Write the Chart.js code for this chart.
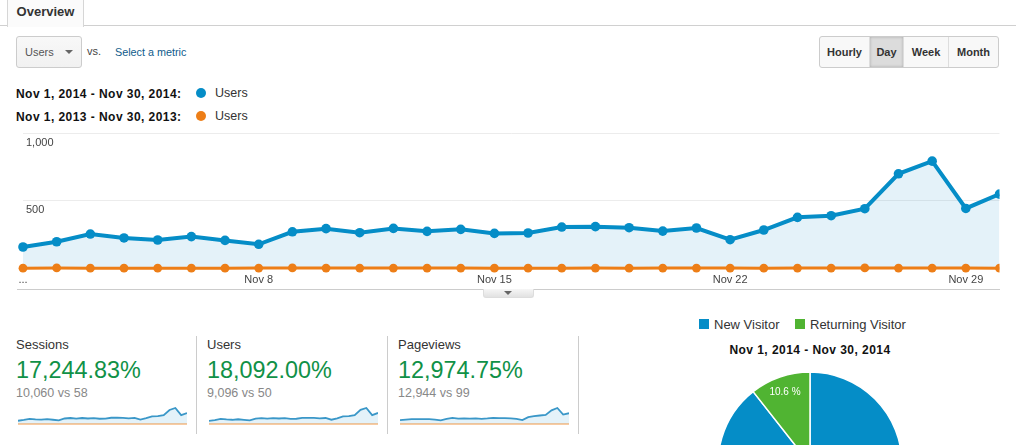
<!DOCTYPE html>
<html>
<head>
<meta charset="utf-8">
<title>Overview</title>
<script src="https://cdn.jsdelivr.net/npm/chart.js@4"></script>
<style>
    html, body { margin: 0; padding: 0; width: 1016px; height: 445px; overflow: hidden; background: #fff; }
    body { position: relative; font-family: "Liberation Sans", Arial, sans-serif; color: #333; }
    .abs { position: absolute; white-space: nowrap; }
    canvas { position: absolute; display: block; }
    .tab-line { left: 0; top: 25px; width: 1016px; height: 1px; background: #d0d0d0; }
    .tab { left: 7px; top: -2px; width: 75px; height: 28px; border: 1px solid #d6d6d6; border-bottom: 0; background: #fbfbfb;
        font: bold 13px/26px "Liberation Sans", sans-serif; text-align: center; color: #333; }
    .select { left: 16px; top: 36px; width: 64px; height: 30px; border: 1px solid #ccc; border-radius: 3px;
        background: linear-gradient(#f8f8f8, #f1f1f1); font-size: 11px; line-height: 30px; color: #555; text-indent: 8px; }
    .arrow { width: 0; height: 0; border-left: 4px solid transparent; border-right: 4px solid transparent; border-top: 4px solid #666; }
    .buttons { left: 819px; top: 36px; width: 178px; height: 30px; border: 1px solid #ccc; border-radius: 3px; display: flex;
        background: #f8f8f8; overflow: hidden; font: bold 11px/30px "Liberation Sans", sans-serif; color: #333; }
    .buttons div { text-align: center; border-right: 1px solid #ddd; box-sizing: border-box; }
    .buttons div:last-child { border-right: 0; }
    .buttons .on { background: #dcdcdc; box-shadow: inset 0 0 3px #aaa; }
    .range { font: bold 12px "Liberation Sans", sans-serif; color: #111; letter-spacing: 0.45px; }
    .dot { width: 10px; height: 10px; border-radius: 50%; }
    .metric { font-size: 13px; color: #333; }
    .pct { font-size: 23.4px; color: #109147; }
    .sub { font-size: 12.5px; color: #888; }
    .sep { width: 1px; top: 336px; height: 98px; background: #ccc; }
    .square { width: 10px; height: 10px; top: 319px; }
</style>
</head>
<body>
<div class="abs tab-line"></div>
<div class="abs tab">Overview</div>

<div class="abs select">Users</div>
<div class="abs arrow" style="left:65px;top:50px"></div>
<div class="abs" style="left:87px;top:45px;font-size:11px;color:#444">vs.</div>
<div class="abs" style="left:115px;top:46px;font-size:10.8px;color:#0f5c8c">Select a metric</div>

<div class="abs buttons">
    <div style="width:50px">Hourly</div>
    <div class="on" style="width:34px">Day</div>
    <div style="width:45px">Week</div>
    <div style="width:49px">Month</div>
</div>

<div id="ranges"></div>

<canvas id="main-chart" width="1016" height="165" style="left:0;top:125px"></canvas>
<div class="abs" style="left:17px;top:289px;width:983px;height:1px;background:#ccc"></div>
<div class="abs" style="left:483px;top:289px;width:49px;height:8px;border:1px solid #ddd;border-top:0;border-radius:0 0 3px 3px;background:linear-gradient(#f6f6f6,#e2e2e2)"></div>
<div class="abs arrow" style="left:504px;top:291px"></div>

<div id="stats"></div>

<div id="pie-legend"></div>
<div class="abs range" style="left:650px;width:320px;top:343px;text-align:center" id="pie-title"></div>
<canvas id="pie-chart" width="200" height="200" style="left:710px;top:364px"></canvas>

<script>
// Categories and tick labels
const days = ['Nov 1', 'Nov 2', 'Nov 3', 'Nov 4', 'Nov 5', 'Nov 6', 'Nov 7', 'Nov 8', 'Nov 9', 'Nov 10',
    'Nov 11', 'Nov 12', 'Nov 13', 'Nov 14', 'Nov 15', 'Nov 16', 'Nov 17', 'Nov 18', 'Nov 19', 'Nov 20',
    'Nov 21', 'Nov 22', 'Nov 23', 'Nov 24', 'Nov 25', 'Nov 26', 'Nov 27', 'Nov 28', 'Nov 29', 'Nov 30'];
const shownDays = ['Nov 8', 'Nov 15', 'Nov 22', 'Nov 29'];
const firstDayLabel = '...';
const yTicks = [500, 1000];

// Main series
const users2014 = [158, 197, 254, 225, 210, 235, 207, 178, 271, 294,
    264, 296, 274, 289, 259, 262, 306, 309, 301, 276,
    299, 212, 284, 378, 390, 442, 701, 795, 444, 550];
const users2013 = [1, 3, 1, 1, 1, 1, 1, 2, 3, 2,
    2, 2, 2, 2, 1, 1, 1, 2, 1, 2,
    2, 2, 1, 2, 2, 3, 2, 2, 2, 1];

// Sparklines
const sessions2014 = [175, 220, 280, 250, 235, 260, 230, 200, 300, 325,
    295, 325, 300, 320, 285, 290, 340, 340, 335, 305,
    330, 235, 315, 410, 425, 480, 760, 870, 480, 595];
const sessions2013 = [1, 3, 2, 2, 2, 1, 2, 2, 3, 2,
    2, 2, 2, 2, 2, 2, 2, 2, 1, 2,
    2, 3, 2, 2, 2, 3, 2, 2, 2, 2];
const pageviews2014 = [280, 320, 350, 345, 345, 350, 320, 260, 370, 445,
    390, 400, 385, 400, 370, 400, 440, 420, 420, 400,
    370, 280, 490, 560, 610, 655, 985, 1150, 680, 775];
const pageviews2013 = [2, 5, 3, 3, 3, 2, 3, 5, 6, 4,
    3, 4, 3, 4, 3, 3, 3, 4, 3, 3,
    4, 5, 3, 3, 3, 5, 3, 4, 3, 3];

// Summary texts
const rangeLabels = ['Nov 1, 2014 - Nov 30, 2014:', 'Nov 1, 2013 - Nov 30, 2013:'];
const metricNames = ['Sessions', 'Users', 'Pageviews'];
const metricChanges = ['17,244.83%', '18,092.00%', '12,974.75%'];
const metricTotals = ['10,060 vs 58', '9,096 vs 50', '12,944 vs 99'];

// Pie
const visitorTypes = ['New Visitor', 'Returning Visitor'];
const visitorShares = [89.4, 10.6];
const pieTitle = 'Nov 1, 2014 - Nov 30, 2014';

const BLUE = '#058dc7';
const ORANGE = '#ed7e17';
const GREEN = '#50b432';

function addHtml(id, html) {
    document.getElementById(id).insertAdjacentHTML('beforeend', html);
}

// Date range legend
rangeLabels.forEach((label, i) => {
    const y = 93 + i * 23;
    addHtml('ranges', `
        <div class="abs range" style="left:16px;top:${y - 6}px">${label}</div>
        <div class="abs dot" style="left:196px;top:${y - 5}px;background:${i ? ORANGE : BLUE}"></div>
        <div class="abs" style="left:215px;top:${y - 7}px;font-size:12.5px;color:#333">Users</div>`);
});

// Main line chart
new Chart(document.getElementById('main-chart'), {
    type: 'line',
    data: {
        labels: days,
        datasets: [
            {
                label: 'Users 2013',
                data: users2013,
                order: 0,
                borderColor: ORANGE,
                backgroundColor: ORANGE,
                borderWidth: 3,
                pointRadius: 4.4,
                pointBorderWidth: 0,
                fill: false,
                clip: { left: 10, top: 10, right: 0, bottom: 10 }
            },
            {
                label: 'Users 2014',
                data: users2014,
                order: 1,
                borderColor: BLUE,
                pointBackgroundColor: BLUE,
                backgroundColor: 'rgba(5, 141, 199, 0.11)',
                borderWidth: 4,
                pointRadius: 4.8,
                pointBorderWidth: 0,
                fill: 'origin',
                clip: { left: 10, top: 10, right: 0, bottom: 10 }
            }
        ]
    },
    options: {
        responsive: false,
        animation: false,
        layout: { padding: { left: 23, right: 16.5, top: 8.5, bottom: 0 } },
        plugins: { legend: { display: false }, tooltip: { enabled: false } },
        scales: {
            x: {
                grid: { display: false, drawTicks: false },
                border: { display: false },
                afterFit: (scale) => { scale.height = 21.7; },
                ticks: {
                    autoSkip: false,
                    maxRotation: 0,
                    padding: 5,
                    color: '#444',
                    font: { family: 'Liberation Sans', size: 11 },
                    callback: function (value, index) {
                        const label = this.getLabelForValue(value);
                        if (index === 0) return firstDayLabel;
                        return shownDays.includes(label) ? label : '';
                    }
                }
            },
            y: {
                min: 0,
                max: 1000,
                grid: { color: '#ececec', drawTicks: false },
                border: { display: false },
                // labels sit inside the plot, so the axis takes no room
                afterFit: (scale) => {
                    scale.width = 0;
                    scale.paddingTop = 0;
                    scale.paddingBottom = 0;
                },
                ticks: {
                    stepSize: 500,
                    mirror: true,
                    padding: 3,
                    labelOffset: 9,
                    color: '#444',
                    font: { family: 'Liberation Sans', size: 11 },
                    callback: (value) => yTicks.includes(value) ? value.toLocaleString('en-US') : ''
                }
            }
        }
    }
});

// Metric blocks with sparklines
const sparkSeries = [
    [sessions2014, sessions2013],
    [users2014, users2013],
    [pageviews2014, pageviews2013]
];

metricNames.forEach((name, i) => {
    const left = 16 + i * 191;
    addHtml('stats', `
        <div class="abs metric" style="left:${left}px;top:337px">${name}</div>
        <div class="abs pct" style="left:${left}px;top:357px">${metricChanges[i]}</div>
        <div class="abs sub" style="left:${left}px;top:386px">${metricTotals[i]}</div>
        <div class="abs sep" style="left:${left + 180}px"></div>
        <canvas id="spark-${i}" width="169" height="24" style="left:${left + 2}px;top:403px"></canvas>`);
});

sparkSeries.forEach(([current, previous], i) => {
    new Chart(document.getElementById(`spark-${i}`), {
        type: 'line',
        data: {
            labels: days,
            datasets: [
                { data: previous, order: 0, borderColor: 'rgba(237, 126, 23, 0.4)', borderWidth: 2, pointRadius: 0, fill: false, clip: false },
                { data: current, order: 1, borderColor: '#3a97c8', backgroundColor: 'rgba(5, 141, 199, 0.11)', borderWidth: 1.8, pointRadius: 0, fill: 'origin', clip: false }
            ]
        },
        options: {
            responsive: false,
            animation: false,
            layout: { padding: { top: 5, bottom: 3, left: 0, right: 0 } },
            plugins: { legend: { display: false }, tooltip: { enabled: false } },
            scales: {
                x: { display: false },
                y: { display: false, min: 0, max: Math.max(...current) }
            }
        }
    });
});

// Pie legend and title
const pieLegendSpots = [[699, 714], [795, 810]];
visitorTypes.forEach((name, i) => {
    addHtml('pie-legend', `
        <div class="abs square" style="left:${pieLegendSpots[i][0]}px;background:${i ? GREEN : BLUE}"></div>
        <div class="abs" style="left:${pieLegendSpots[i][1]}px;top:317px;font-size:13px;color:#333">${name}</div>`);
});
document.getElementById('pie-title').textContent = pieTitle;

// White percent label inside the small slice
const sliceLabel = {
    id: 'sliceLabel',
    afterDatasetsDraw(chart) {
        const ctx = chart.ctx;
        const arc = chart.getDatasetMeta(0).data[1];
        const { x, y, startAngle, endAngle, outerRadius } = arc.getProps(['x', 'y', 'startAngle', 'endAngle', 'outerRadius']);
        const mid = (startAngle + endAngle) / 2;
        ctx.save();
        ctx.fillStyle = '#fff';
        ctx.font = '10px "Liberation Sans"';
        ctx.textAlign = 'center';
        ctx.textBaseline = 'middle';
        ctx.fillText(`${visitorShares[1]} %`, x + Math.cos(mid) * outerRadius * 0.83, y + Math.sin(mid) * outerRadius * 0.82);
        ctx.restore();
    }
};

new Chart(document.getElementById('pie-chart'), {
    type: 'pie',
    data: {
        labels: visitorTypes,
        datasets: [{
            data: visitorShares,
            backgroundColor: [BLUE, GREEN],
            borderColor: '#fff',
            borderWidth: 1.5,
            radius: 92
        }]
    },
    options: {
        responsive: false,
        animation: false,
        plugins: { legend: { display: false }, tooltip: { enabled: false } }
    },
    plugins: [sliceLabel]
});
</script>
</body>
</html>
